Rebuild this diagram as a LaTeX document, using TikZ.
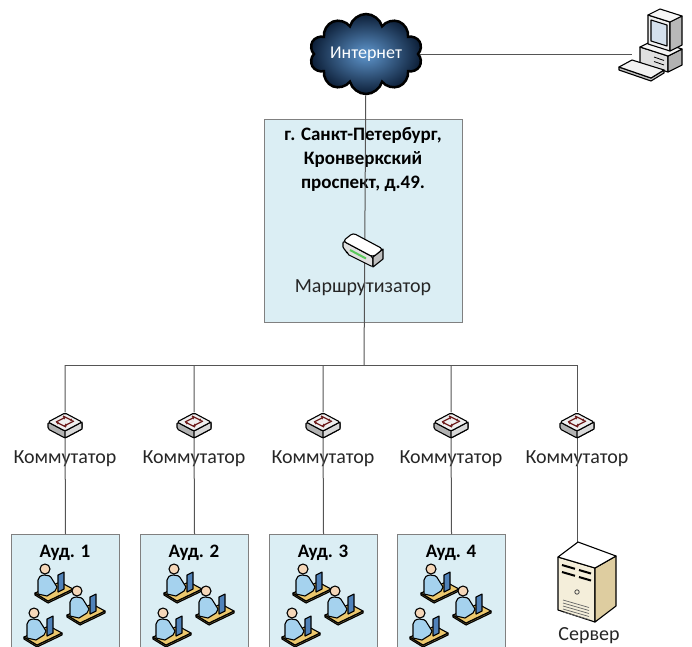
\documentclass[tikz,border=0pt]{standalone}
\usepackage{fontspec}
\setmainfont{Carlito}
\usetikzlibrary{shapes.symbols,arrows.meta,positioning,calc}

\definecolor{roomblue}{RGB}{219,238,244}
\definecolor{wiregray}{RGB}{85,85,85}
\definecolor{cloudlight}{RGB}{95,150,205}
\definecolor{clouddark}{RGB}{12,30,55}
\definecolor{deskbrown}{RGB}{236,200,110}
\definecolor{userblue}{RGB}{165,210,238}
\definecolor{screenblue}{RGB}{80,130,185}
\definecolor{screengray}{RGB}{212,224,236}
\definecolor{skin}{RGB}{245,215,185}
\definecolor{towerbeige}{RGB}{222,205,160}
\definecolor{towerlight}{RGB}{244,238,218}
\definecolor{portred}{RGB}{110,30,30}
\definecolor{ledgreen}{RGB}{90,200,90}

\tikzstyle{room} = [rectangle, draw=black!50, fill=roomblue, line width=1pt,
    anchor=north west, minimum width=108, minimum height=140]
\tikzstyle{wire} = [draw=wiregray, line width=1pt]
\tikzstyle{devname} = [font=\fontsize{20}{24}\selectfont, text=black!85]
\tikzstyle{roomtitle} = [font=\bfseries\fontsize{19}{24}\selectfont, align=center]
\tikzstyle{icon} = [draw=black, line width=1.1pt, line join=round]
\tikzstyle{port} = [portred, line width=1.2pt, -{Stealth[length=3pt,width=3pt]}]

\tikzset{
  switchicon/.pic={
    \draw[icon, fill=black!30, rounded corners=1.5pt] (-17,-3) -- (-17,4) -- (0,13) -- (17,4) -- (17,-3) -- (0,6) -- cycle;
    \draw[icon, fill=black!15] (0,6) -- (0,13) -- (17,4) -- (17,-3) -- cycle;
    \draw[icon, fill=red!4!black!6, rounded corners=1.5pt] (-17,-3) -- (0,-12) -- (17,-3) -- (0,6) -- cycle;
    \draw[port] (-9,-3) -- (1,-8);
    \draw[port] (9,-4) -- (-1,1);
    \draw[port] (-2,-9) -- (8,-4);
    \draw[port] (1,2) -- (-9,-3);
  },
  routericon/.pic={
    \draw[icon, fill=black!12, rounded corners=2pt] (-20,-8) -- (-20,0) -- (-16,2) -- (-16,5) -- (10,18) -- (10,8) -- cycle;
    \draw[icon, fill=black!25] (10,8) -- (10,18) -- (20,10) -- (20,0) -- cycle;
    \draw[icon, fill=white, rounded corners=3pt] (-20,-8) -- (-10,-16) -- (20,0) -- (10,8) -- cycle;
    \draw[ledgreen, line width=2pt] (-13,1) -- (3,9.5);
  },
  pcicon/.pic={
    \draw[icon, fill=black!12] (-22,2) -- (6,11) -- (6,27) -- (-22,18) -- cycle;
    \draw[icon, fill=black!30] (6,11) -- (20,4) -- (20,20) -- (6,27) -- cycle;
    \draw[icon, fill=black!4] (-22,2) -- (-8,-5) -- (20,4) -- (6,11) -- cycle;
    \draw[line width=0.8pt] (-8,12) -- (2,15.5) (-8,16.5) -- (2,20);
    \draw[icon, fill=black!6] (-14,-30) -- (8,-23) -- (8,6) -- (-14,-1) -- cycle;
    \draw[icon, fill=black!28] (8,-23) -- (20,-29) -- (20,0) -- (8,6) -- cycle;
    \draw[icon, fill=black!3] (-14,-30) -- (-2,-36) -- (20,-29) -- (8,-23) -- cycle;
    \draw[icon, fill=screengray] (-11,-25) -- (5,-20) -- (5,1) -- (-11,-4) -- cycle;
    \draw[icon, fill=black!25] (-43,22) -- (-43,25) -- (-11,36) -- (2,28) -- (2,25) -- (-11,33) -- cycle;
    \draw[icon, fill=black!5] (-43,22) -- (-30,15) -- (2,25) -- (-11,33) -- cycle;
  },
  usericon/.pic={
    \draw[icon, fill=deskbrown!65!black] (-19,9) -- (-19,11) -- (-6,19) -- (19,7) -- (19,5) -- (-6,17) -- cycle;
    \draw[icon, fill=deskbrown] (-19,9) -- (6,-2) -- (19,5) -- (-6,17) -- cycle;
    \draw[icon, fill=screenblue] (4,-9) -- (10,-12) -- (10,5) -- (4,8) -- cycle;
    \draw[icon, fill=userblue] (-16,10) -- (-16,-4) .. controls (-16,-10) and (-4,-11) .. (-2,-5)
        -- (3,3) -- (1,7) -- (-7,12) -- cycle;
    \draw[icon, fill=skin] (-9,-15) circle (5);
  },
  servericon/.pic={
    \draw[icon, fill=towerlight] (-31,-21) -- (6,-10) -- (6,44) -- (-31,32) -- cycle;
    \draw[icon, fill=towerbeige] (6,-10) -- (27,-22) -- (27,28) -- (6,44) -- cycle;
    \draw[icon, fill=white] (-31,-21) -- (-11,-36) -- (27,-22) -- (6,-10) -- cycle;
    \draw[line width=2pt] (-27,-13) -- (-14,-9.2) (-10,-8) -- (2,-4.5)
        (-27,-6) -- (-14,-2.2) (-10,-1) -- (2,2.5);
    \draw[line width=0.8pt, black!70] (-12,14) circle (2.2);
    \foreach \k in {0,...,4}
      \draw[line width=0.7pt, black!60] (-26,22+3*\k) -- (0,29.5+3*\k);
  }
}

\begin{document}
\begin{tikzpicture}[x=1pt, y=-1pt]
\useasboundingbox (0,0) rectangle (692,646);
\clip (0,0) rectangle (692,646);

\node[cloud, cloud puffs=10, cloud ignores aspect, minimum width=104, minimum height=80,
    draw=black, line width=2.5pt, inner color=cloudlight, outer color=clouddark,
    text=white, font=\fontsize{18}{22}\selectfont] (inet) at (366,54) {Интернет};
\node[minimum width=60, minimum height=72, inner sep=0] (pc) at (662,45) {};

\node[room, minimum width=198, minimum height=203] (spb) at (264,119) {};
\node[roomtitle] (spbname) at (363,159) {г. Санкт-Петербург,\\Кронверкский\\проспект, д.49.};
\node[inner sep=0, minimum width=40, minimum height=34] (router) at (363,249) {};
\node[devname] (routername) at (363,288) {Маршрутизатор};

\coordinate (hub) at (364,365);
\foreach \x [count=\i] in {65,194,323,451,577} {
  \coordinate (tap\i) at (\x,365);
  \node[inner sep=0, minimum width=34, minimum height=25] (sw\i) at (\x,425) {};
  \node[devname] (swname\i) at (\x,459) {Коммутатор};
}
\foreach \x [count=\i] in {65,194,323,451} {
  \node[room] (aud\i) at (\x-54,534) {};
  \node[roomtitle] (audname\i) at (\x,553) {Ауд. \i};
}
\coordinate (srvtop) at (577,548);
\node[inner sep=0, minimum width=58, minimum height=84] (srv) at (589,578) {};
\node[devname] (srvname) at (589,636) {Сервер};

\draw[wire] (inet.east) -- (inet.east -| pc.west);
\draw[wire] (inet) -- (hub);
\draw[wire] (tap1) -- (tap5);
\foreach \i in {1,...,4}
  \draw[wire] (tap\i) -- (sw\i) -- (aud\i.north);
\draw[wire] (tap5) -- (sw5) -- (srvtop);

\pic at (pc) {pcicon};
\pic at (router) {routericon};
\foreach \i in {1,...,5}
  \pic at (sw\i) {switchicon};
\foreach \i in {1,...,4} {
  \pic at ($(aud\i.north west)+(43,50)$) {usericon};
  \pic at ($(aud\i.north west)+(75,72)$) {usericon};
  \pic at ($(aud\i.north west)+(32,94)$) {usericon};
}
\pic at (srv) {servericon};
\end{tikzpicture}
\end{document}
